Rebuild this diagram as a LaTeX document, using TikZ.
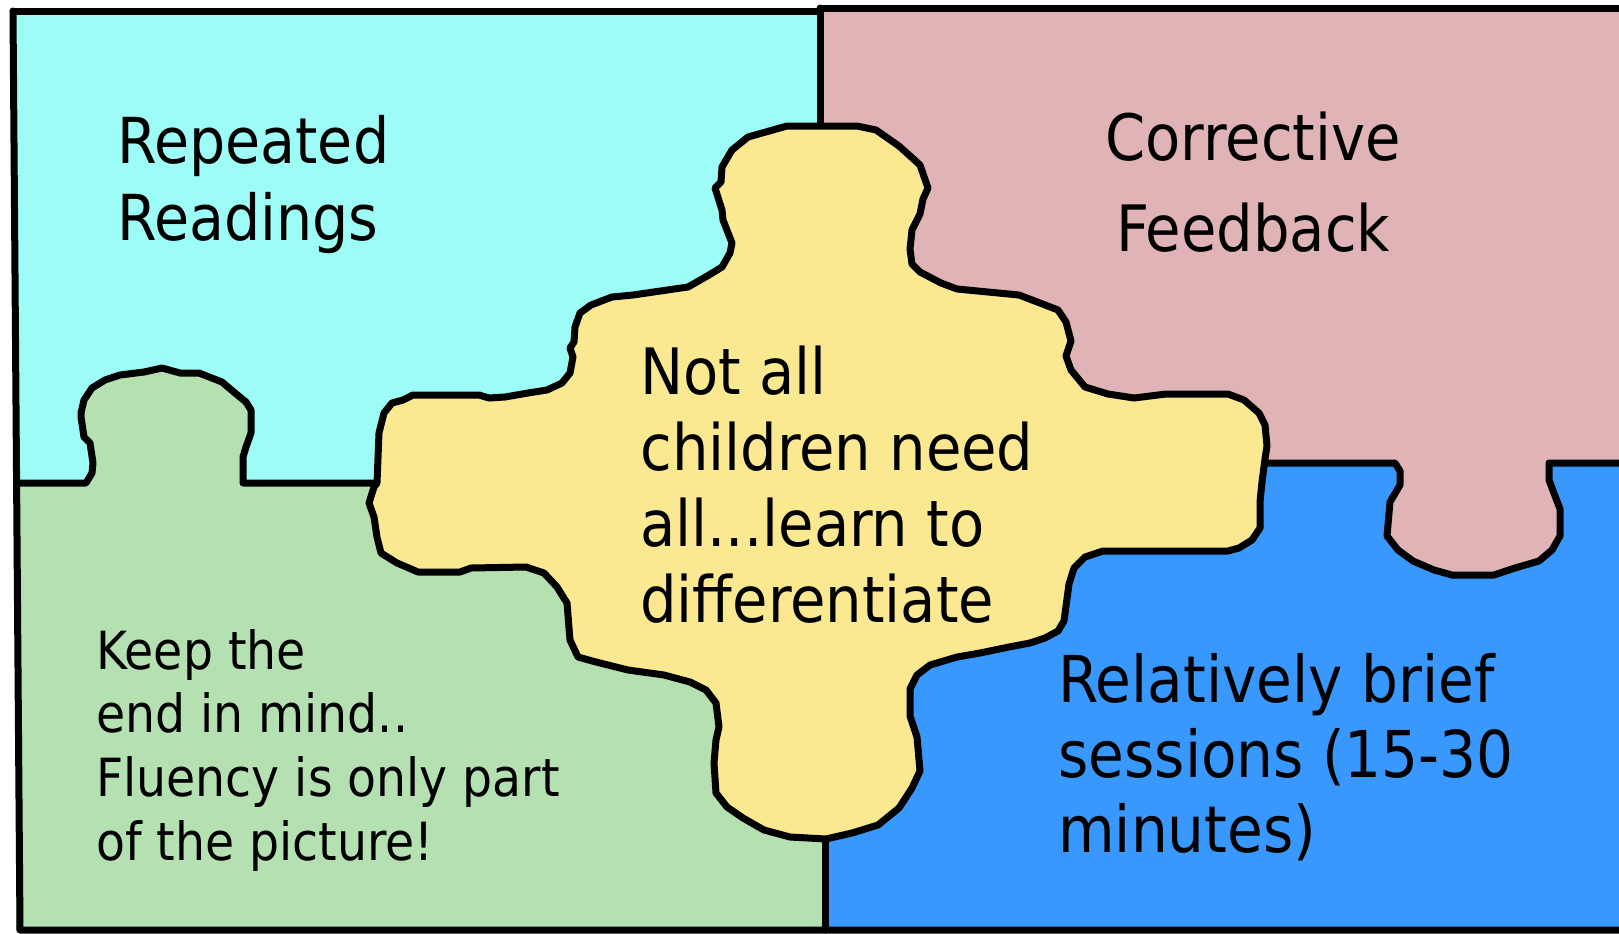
\documentclass[tikz,border=0pt]{standalone}
\usepackage{fontspec}
\newfontfamily\pz{DejaVu Sans Condensed}
\definecolor{cyanp}{RGB}{158,252,246}
\definecolor{pinkp}{RGB}{224,180,182}
\definecolor{greenp}{RGB}{180,224,178}
\definecolor{bluep}{RGB}{56,152,254}
\definecolor{yellowp}{RGB}{251,233,146}
\tikzset{
  edge/.style={line width=3.5pt, line join=round, line cap=round, draw=black},
  lbl/.style={inner sep=0pt, anchor=base west, align=left, text=black}
}
\begin{document}
\begin{tikzpicture}[x=0.5pt,y=-0.5pt]
\useasboundingbox (0,0) rectangle (1619,933);
% fills
\fill[cyanp] (13,11) rectangle (822,483);
\fill[pinkp] (820,7) rectangle (1625,463);
\fill[greenp] (16,483) rectangle (825,932);
\fill[bluep] (825,463) rectangle (1625,932);
\fill[greenp] (86,485) -- (92,473) -- (93,463) -- (90,443) -- (84,437) -- (81,417) -- (81,413) -- (84,400) -- (92,388) -- (105,380) -- (120,375) -- (144,372) -- (162,368) -- (180,373) -- (199,373) -- (222,382) -- (235,393) -- (246,402) -- (251,410) -- (251,433) -- (246,447) -- (243,457) -- (243,485) -- cycle;
\fill[pinkp] (1395,461) -- (1400,471) -- (1400,485) -- (1390,502) -- (1387,536) -- (1398,550) -- (1413,561) -- (1434,570) -- (1452,575) -- (1494,575) -- (1515,568) -- (1539,561) -- (1552,550) -- (1560,536) -- (1560,509) -- (1552,488) -- (1549,480) -- (1549,461) -- cycle;
% frame
\draw[edge] (13,11) -- (820,11);
\draw[edge] (820,8) -- (1625,8);
\draw[edge] (13,11) -- (20,930) -- (1625,930);
\draw[edge] (820,8) -- (820,126);
\draw[edge] (825,838) -- (825,930);
% cyan / green boundary with knob
\draw[edge] (17,483) -- (86,483) -- (92,473) -- (93,463) -- (90,443) -- (84,437) -- (81,417) -- (81,413) -- (84,400) -- (92,388) -- (105,380) -- (120,375) -- (144,372) -- (162,368) -- (180,373) -- (199,373) -- (222,382) -- (235,393) -- (246,402) -- (251,410) -- (251,433) -- (246,447) -- (243,457) -- (243,483) -- (377,483);
% pink / blue boundary with knob
\draw[edge] (1262,463) -- (1395,463) -- (1400,471) -- (1400,485) -- (1390,502) -- (1387,536) -- (1398,550) -- (1413,561) -- (1434,570) -- (1452,575) -- (1494,575) -- (1515,568) -- (1539,561) -- (1552,550) -- (1560,536) -- (1560,509) -- (1552,488) -- (1549,480) -- (1549,463) -- (1625,463);
% yellow centre piece
\draw[edge, fill=yellowp] (787,126) -- (857,126) -- (876,130) -- (899,146) -- (920,165) -- (928,188) -- (923,199) -- (920,214) -- (912,230) -- (910,249) -- (912,264) -- (920,272) -- (941,283) -- (957,289) -- (1019,295) -- (1040,303) -- (1058,310) -- (1066,322) -- (1071,341) -- (1066,356) -- (1071,370) -- (1085,387) -- (1108,394) -- (1134,398) -- (1166,394) -- (1228,394) -- (1244,400) -- (1259,413) -- (1265,425) -- (1267,446) -- (1265,459) -- (1262,482) -- (1260,502) -- (1260,528) -- (1252,540) -- (1239,548) -- (1228,551) -- (1103,551) -- (1085,557) -- (1074,568) -- (1069,584) -- (1064,621) -- (1058,631) -- (1045,638) -- (1030,643) -- (1009,647) -- (980,653) -- (957,657) -- (930,665) -- (917,675) -- (910,689) -- (910,716) -- (917,737) -- (920,771) -- (912,788) -- (899,808) -- (878,825) -- (852,833) -- (826,839) -- (790,837) -- (764,830) -- (743,818) -- (727,807) -- (716,793) -- (714,763) -- (716,740) -- (719,727) -- (716,703) -- (706,690) -- (690,682) -- (664,675) -- (628,670) -- (596,662) -- (578,657) -- (570,640) -- (567,603) -- (557,587) -- (544,573) -- (526,567) -- (471,568) -- (460,572) -- (418,572) -- (397,563) -- (381,553) -- (377,537) -- (374,517) -- (369,503) -- (374,487) -- (377,483) -- (379,433) -- (384,413) -- (392,403) -- (403,400) -- (413,395) -- (479,395) -- (489,398) -- (505,397) -- (528,393) -- (547,390) -- (562,383) -- (570,373) -- (573,357) -- (570,348) -- (574,342) -- (575,327) -- (580,313) -- (591,305) -- (612,297) -- (633,295) -- (688,287) -- (709,275) -- (722,267) -- (730,253) -- (732,243) -- (723,220) -- (722,210) -- (715,188) -- (721,182) -- (722,167) -- (732,150) -- (748,137) -- cycle;
% texts (anchor = baseline of last line)
\node[lbl, font=\pz\fontsize{31.7}{38.5}\selectfont] (rr) at (117,240) {Repeated\\Readings};
\node[lbl, anchor=base, align=center, font=\pz\fontsize{32}{45.5}\selectfont] (cf) at (1253,251) {Corrective\\Feedback};
\node[lbl, font=\pz\fontsize{32}{38}\selectfont] (nd) at (640,622) {Not all\\children need\\all...learn to\\differentiate};
\node[lbl, font=\pz\fontsize{26.3}{31.8}\selectfont] (ke) at (96,860) {Keep the\\end in mind..\\Fluency is only part\\of the picture!};
\node[lbl, font=\pz\fontsize{32.3}{37.5}\selectfont] (rb) at (1058,852) {Relatively brief\\sessions (15-30\\minutes)};
\end{tikzpicture}
\end{document}
